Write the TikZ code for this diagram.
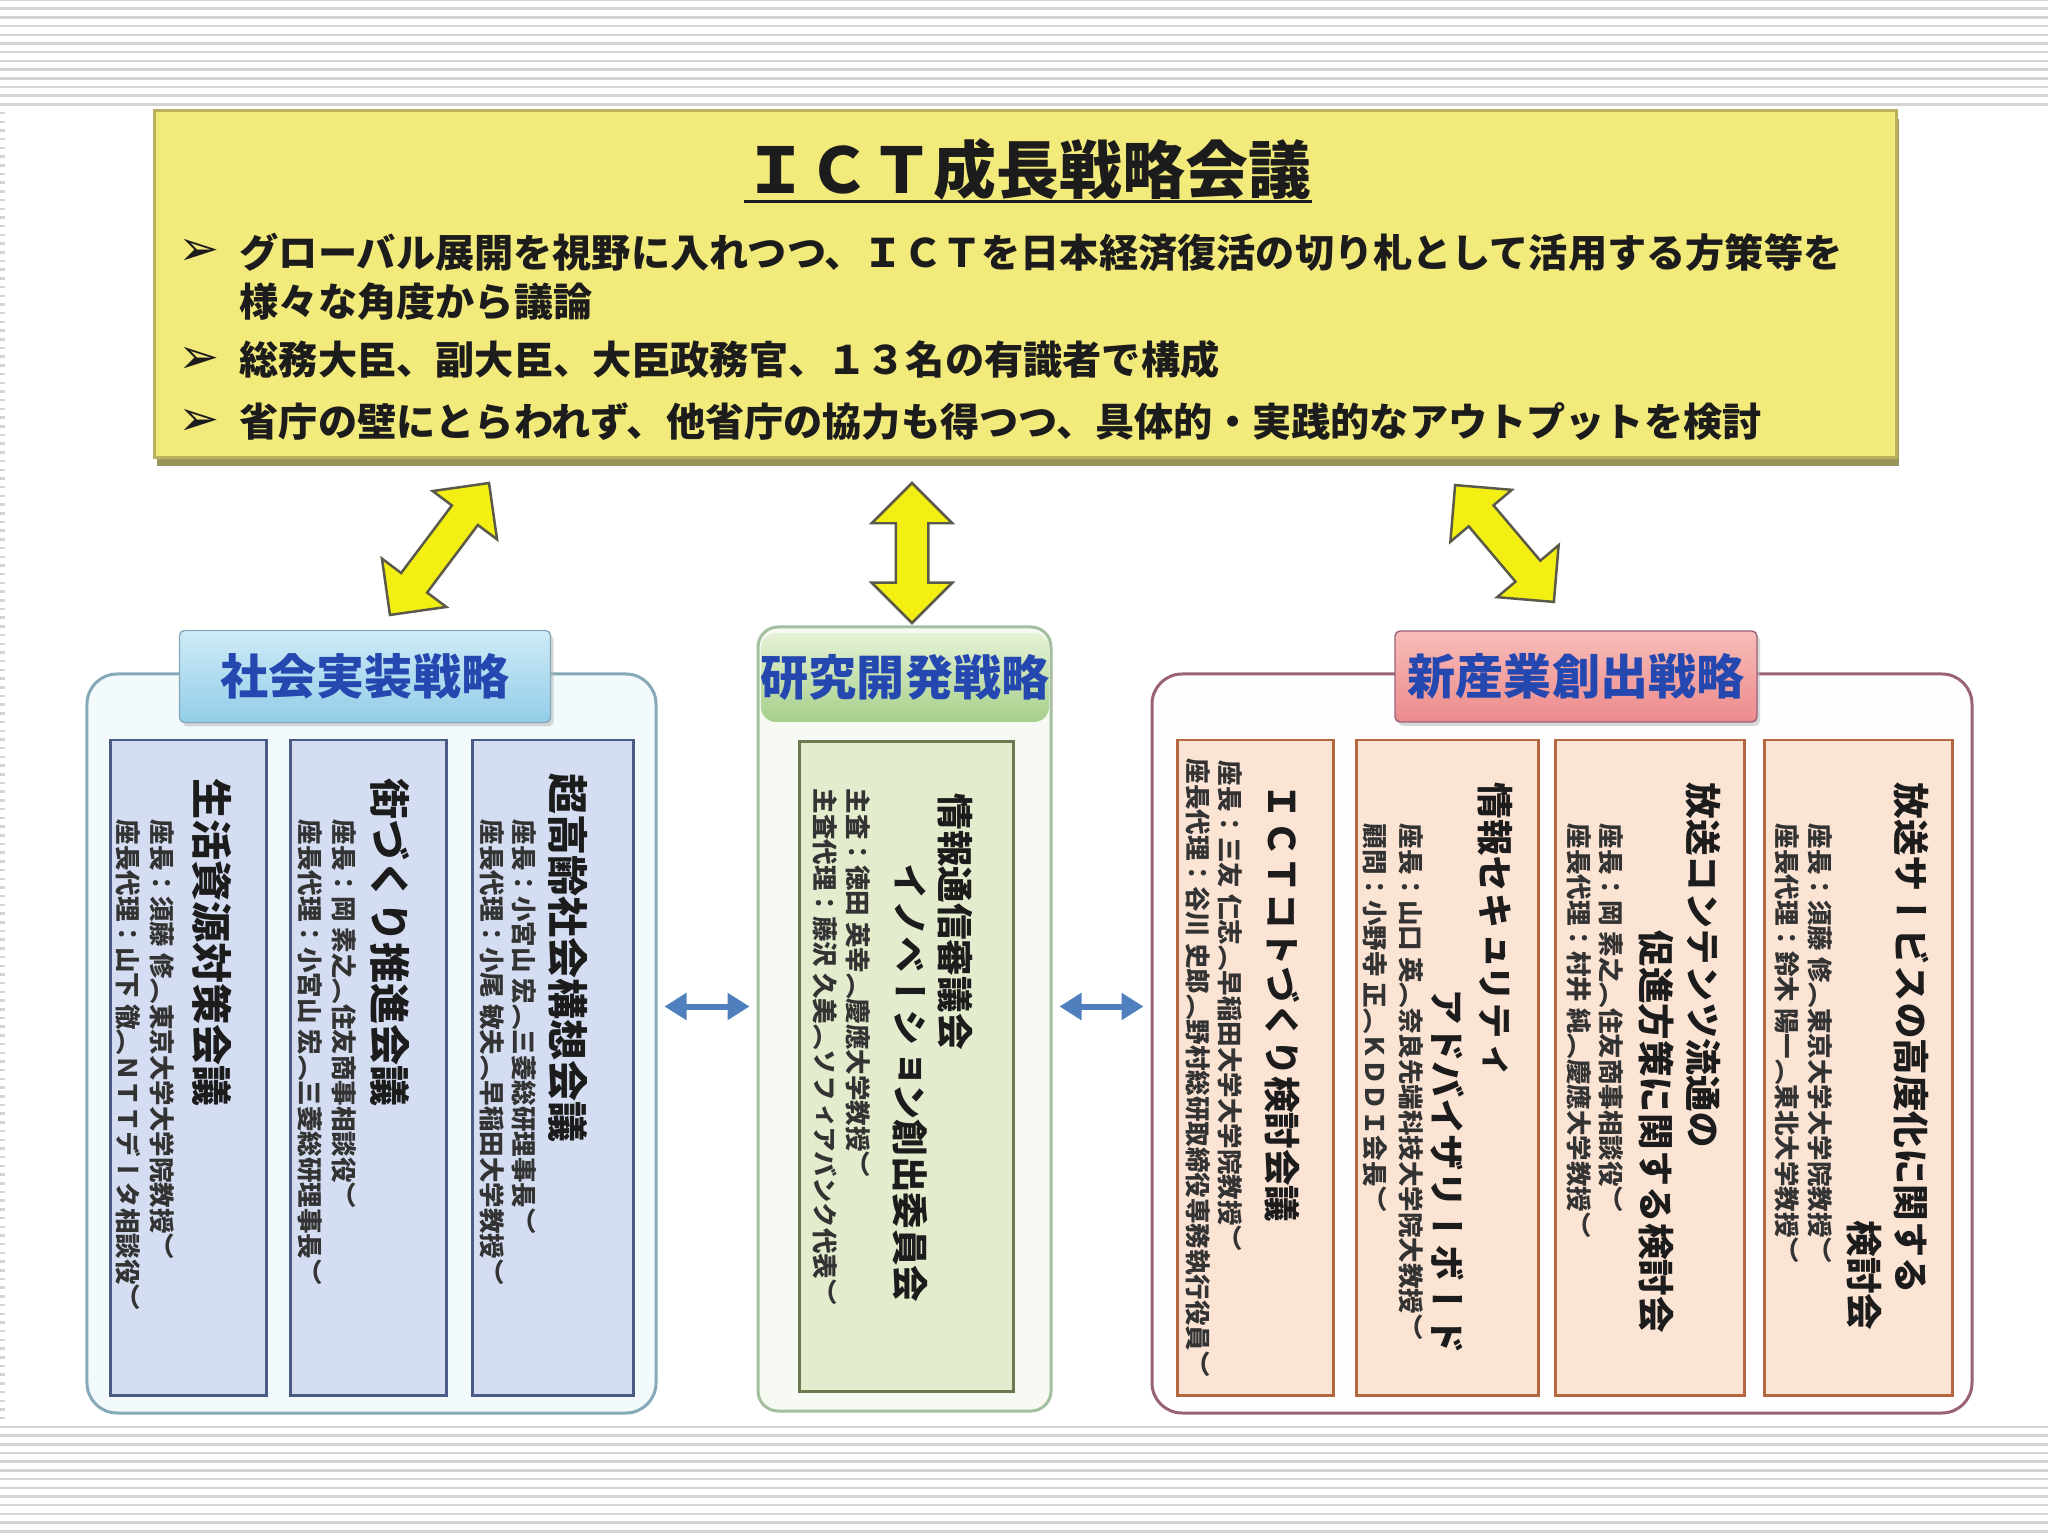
\documentclass[tikz,border=0pt]{standalone}
\usepackage{fontspec}
\setmainfont{Noto Sans CJK JP}
\newfontfamily\tatefont[Vertical=RotatedGlyphs]{Noto Sans CJK JP}
\newfontfamily\markfont{DejaVu Sans}
\usepackage{tikz}
\usetikzlibrary{shapes.arrows, arrows.meta, shadows}

\definecolor{topfill}{HTML}{F3EA7C}
\definecolor{topedge}{HTML}{B9B060}
\definecolor{topshade}{HTML}{8F8A48}
\definecolor{inkdark}{HTML}{1C1C1C}
\definecolor{labelblue}{HTML}{2448B0}
\definecolor{socedge}{HTML}{86A9B8}
\definecolor{socbg}{HTML}{F3FAFC}
\definecolor{soctop}{HTML}{CFEBF7}
\definecolor{socbot}{HTML}{92CDE8}
\definecolor{socsub}{HTML}{D4DDF1}
\definecolor{socsubedge}{HTML}{4A5B86}
\definecolor{rndedge}{HTML}{A3BFA0}
\definecolor{rndbg}{HTML}{F6FAF2}
\definecolor{rndtop}{HTML}{E6F2D6}
\definecolor{rndbot}{HTML}{A6CF8A}
\definecolor{rndsub}{HTML}{E3ECCD}
\definecolor{rndsubedge}{HTML}{6C7A4F}
\definecolor{indedge}{HTML}{9A6278}
\definecolor{indbg}{HTML}{FFFDFD}
\definecolor{indtop}{HTML}{F8BDB8}
\definecolor{indbot}{HTML}{EC8A8C}
\definecolor{indsub}{HTML}{FCE4D5}
\definecolor{indsubedge}{HTML}{B5683F}
\definecolor{arrowyellow}{HTML}{F4EF12}
\definecolor{arrowedge}{HTML}{5B5A4A}
\definecolor{arrowblue}{HTML}{4F80BD}

\tikzset{
 stripe/.style={draw=black!17, line width=0.025cm},
 council/.style={draw=topedge, fill=topfill, line width=0.03cm,
   drop shadow={shadow xshift=0.03cm, shadow yshift=-0.08cm, fill=topshade, opacity=0.9}},
 headline/.style={inner sep=0pt, text=inkdark, font=\bfseries\fontsize{17.9}{20}\selectfont},
 bullettext/.style={anchor=west, inner sep=0pt, text=inkdark, font=\bfseries\fontsize{11.15}{13}\selectfont},
 bulletmark/.style={inner sep=0pt, text=inkdark, font=\markfont\bfseries\fontsize{14}{15}\selectfont},
 groupbox/.style={line width=0.03cm, rounded corners=0.3cm},
 grouplabel/.style={inner sep=0pt, text=labelblue, font=\bfseries\fontsize{13.66}{15}\selectfont, rounded corners=0.05cm},
 labelshadow/.style={drop shadow={shadow xshift=0.03cm, shadow yshift=-0.04cm, fill=black!30}},
 subbox/.style={line width=0.03cm},
 tate/.style={rotate=-90, anchor=west, inner sep=0pt, text=inkdark},
 tatebig/.style={tate, font=\tatefont\bfseries\fontsize{11.67}{13}\selectfont},
 tatetitle/.style={tate, font=\tatefont\bfseries\fontsize{10.4}{12}\selectfont},
 tatesmall/.style={tate, text=black!80, font=\tatefont\bfseries\fontsize{7.26}{8}\selectfont},
 yarrow/.style={double arrow, draw=arrowedge, fill=arrowyellow, line width=0.025cm,
   inner sep=0.15cm, double arrow head extend=0.24cm},
 barrow/.style={draw=arrowblue, line width=0.06cm, shorten <=0.07cm, shorten >=0.07cm,
   {Triangle[length=0.22cm,width=0.26cm]}-{Triangle[length=0.22cm,width=0.26cm]}}
}

\begin{document}
\begin{tikzpicture}
\useasboundingbox (0,0) rectangle (20.48,-15.36);
% slide background
\draw[stripe, xstep=30, ystep=0.087] (0.001,-1.06) grid (20.48,0);
\draw[stripe, xstep=30, ystep=0.087] (0.001,-15.36) grid (20.48,-14.26);
\draw[stripe, xstep=30, ystep=0.087] (0.001,-14.26) grid (0.05,-1.06);
%
% council
\node[council, minimum width=17.42cm, minimum height=3.47cm] (council) at (10.25,-2.845) {};
\node[headline] (title) at (10.28,-1.70) {ＩＣＴ成長戦略会議};
\draw[line width=0.03cm, inkdark] (title.south west) -- (title.south east);
\node[bulletmark] (m1) at (1.99,-2.52) {➢};
\node[bullettext] (b1) at (2.39,-2.52) {グローバル展開を視野に入れつつ、ＩＣＴを日本経済復活の切り札として活用する方策等を};
\node[bullettext] (b1b) at (2.39,-3.02) {様々な角度から議論};
\node[bulletmark] (m2) at (1.99,-3.60) {➢};
\node[bullettext] (b2) at (2.39,-3.60) {総務大臣、副大臣、大臣政務官、１３名の有識者で構成};
\node[bulletmark] (m3) at (1.99,-4.22) {➢};
\node[bullettext] (b3) at (2.39,-4.22) {省庁の壁にとらわれず、他省庁の協力も得つつ、具体的・実践的なアウトプットを検討};
%
% yellow arrows
\node[yarrow, minimum height=1.65cm, rotate=53.1] (ya1) at (4.395,-5.49) {};
\node[yarrow, minimum height=1.40cm, rotate=90] (ya2) at (9.12,-5.53) {};
\node[yarrow, minimum height=1.53cm, rotate=-49.8] (ya3) at (15.045,-5.435) {};
%
% three strategies
\node[groupbox, draw=socedge, fill=socbg, minimum width=5.69cm, minimum height=7.39cm] (soc) at (3.715,-10.435) {};
\node[groupbox, draw=rndedge, fill=rndbg, rounded corners=0.2cm, minimum width=2.93cm, minimum height=7.84cm] (rnd) at (9.045,-10.19) {};
\node[groupbox, draw=indedge, fill=indbg, minimum width=8.20cm, minimum height=7.39cm] (ind) at (15.62,-10.435) {};
\node[grouplabel, labelshadow, draw=socedge, top color=soctop, bottom color=socbot, minimum width=3.71cm, minimum height=0.92cm] (soclab) at (3.65,-6.765) {社会実装戦略};
\node[grouplabel, top color=rndtop, bottom color=rndbot, rounded corners=0.15cm, minimum width=2.88cm, minimum height=0.89cm] (rndlab) at (9.05,-6.775) {研究開発戦略};
\node[grouplabel, labelshadow, draw=indedge, top color=indtop, bottom color=indbot, minimum width=3.62cm, minimum height=0.91cm] (indlab) at (15.76,-6.765) {新産業創出戦略};
%
\coordinate (link) at ([yshift=0.37cm]soc.east);
\draw[barrow] (link) -- (link -| rnd.west);
\draw[barrow] (link -| rnd.east) -- (link -| ind.west);
%
% 社会実装
\node[subbox, draw=socsubedge, fill=socsub, minimum width=1.55cm, minimum height=6.55cm] (s1) at (1.885,-10.675) {};
\node[subbox, draw=socsubedge, fill=socsub, minimum width=1.56cm, minimum height=6.55cm] (s2) at (3.68,-10.675) {};
\node[subbox, draw=socsubedge, fill=socsub, minimum width=1.61cm, minimum height=6.55cm] (s3) at (5.525,-10.675) {};
\node[tatebig] (s1t) at (2.12,-7.78) {生活資源対策会議};
\node[tatesmall] (s1a) at (1.62,-8.19) {座長：須藤 修（東京大学大学院教授）};
\node[tatesmall] (s1b) at (1.28,-8.19) {座長代理：山下 徹（ＮＴＴデータ相談役）};
\node[tatebig] (s2t) at (3.90,-7.78) {街づくり推進会議};
\node[tatesmall] (s2a) at (3.44,-8.19) {座長：岡 素之（住友商事相談役）};
\node[tatesmall] (s2b) at (3.10,-8.19) {座長代理：小宮山 宏（三菱総研理事長）};
\node[tatebig] (s3t) at (5.68,-7.73) {超高齢社会構想会議};
\node[tatesmall] (s3a) at (5.24,-8.19) {座長：小宮山 宏（三菱総研理事長）};
\node[tatesmall] (s3b) at (4.92,-8.19) {座長代理：小尾 敏夫（早稲田大学教授）};
%
% 研究開発
\node[subbox, draw=rndsubedge, fill=rndsub, minimum width=2.14cm, minimum height=6.49cm] (r1) at (9.06,-10.665) {};
\node[tatetitle] (r1t) at (9.55,-7.93) {情報通信審議会};
\node[tatetitle] (r1u) at (9.10,-8.63) {イノベーション創出委員会};
\node[tatesmall] (r1a) at (8.58,-7.88) {主査：徳田 英幸（慶應大学教授）};
\node[tatesmall] (r1b) at (8.25,-7.88) {主査代理：藤沢 久美（ソフィアバンク代表）};
%
% 新産業創出
\node[subbox, draw=indsubedge, fill=indsub, minimum width=1.56cm, minimum height=6.55cm] (n1) at (12.55,-10.675) {};
\node[subbox, draw=indsubedge, fill=indsub, minimum width=1.82cm, minimum height=6.55cm] (n2) at (14.47,-10.675) {};
\node[subbox, draw=indsubedge, fill=indsub, minimum width=1.89cm, minimum height=6.55cm] (n3) at (16.495,-10.675) {};
\node[subbox, draw=indsubedge, fill=indsub, minimum width=1.88cm, minimum height=6.55cm] (n4) at (18.58,-10.675) {};
\node[tatetitle] (n1t) at (12.82,-7.83) {ＩＣＴコトづくり検討会議};
\node[tatesmall] (n1a) at (12.30,-7.60) {座長：三友 仁志（早稲田大学大学院教授）};
\node[tatesmall] (n1b) at (11.98,-7.58) {座長代理：谷川 史郎（野村総研取締役専務執行役員）};
\node[tatetitle] (n2t) at (14.95,-7.82) {情報セキュリティ};
\node[tatetitle] (n2u) at (14.48,-9.88) {アドバイザリーボード};
\node[tatesmall] (n2a) at (14.11,-8.23) {座長：山口 英（奈良先端科技大学院大教授）};
\node[tatesmall] (n2b) at (13.75,-8.23) {顧問：小野寺 正（ＫＤＤＩ会長）};
\node[tatetitle] (n3t) at (17.03,-7.82) {放送コンテンツ流通の};
\node[tatetitle] (n3u) at (16.56,-9.30) {促進方策に関する検討会};
\node[tatesmall] (n3a) at (16.11,-8.23) {座長：岡 素之（住友商事相談役）};
\node[tatesmall] (n3b) at (15.79,-8.23) {座長代理：村井 純（慶應大学教授）};
\node[tatetitle] (n4t) at (19.11,-7.82) {放送サービスの高度化に関する};
\node[tatetitle] (n4u) at (18.64,-12.20) {検討会};
\node[tatesmall] (n4a) at (18.20,-8.23) {座長：須藤 修（東京大学大学院教授）};
\node[tatesmall] (n4b) at (17.87,-8.23) {座長代理：鈴木 陽一（東北大学教授）};
\end{tikzpicture}
\end{document}
